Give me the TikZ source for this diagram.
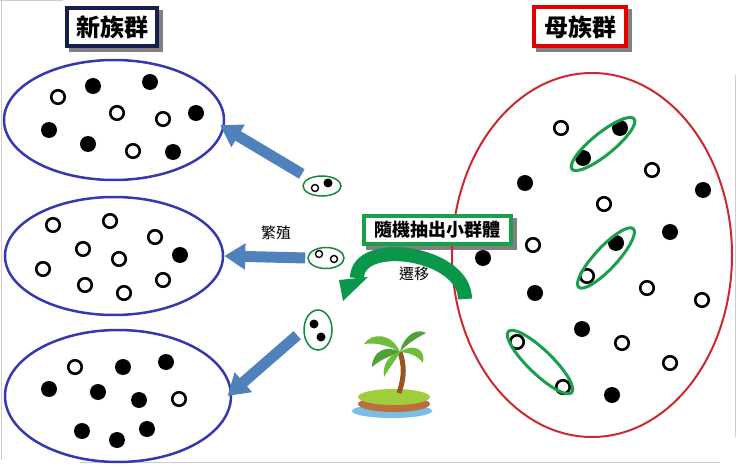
\documentclass[tikz,border=0pt]{standalone}
\usepackage{fontspec}
\setmainfont{Noto Sans CJK TC}
\usetikzlibrary{shapes.geometric,arrows.meta,backgrounds}

\definecolor{popblue}{RGB}{55,55,175}
\definecolor{popred}{RGB}{205,40,50}
\definecolor{pickgreen}{RGB}{25,160,75}
\definecolor{arrowblue}{RGB}{79,129,189}
\definecolor{navy}{RGB}{20,30,80}
\definecolor{migreen}{RGB}{10,150,75}
\definecolor{water}{RGB}{120,190,230}
\definecolor{soil}{RGB}{190,110,60}
\definecolor{grass}{RGB}{160,205,60}
\definecolor{trunk}{RGB}{150,85,35}
\definecolor{leaf}{RGB}{110,190,60}
\definecolor{darkleaf}{RGB}{80,160,55}

\begin{document}
\begin{tikzpicture}[x=1pt, y=-1pt,
  pop/.style = {draw=popblue, line width=2.5pt, ellipse, inner sep=0},
  full/.style = {circle, fill=black, minimum size=16pt, inner sep=0},
  hollow/.style = {circle, draw=black, line width=2.6pt, fill=white, minimum size=13.5pt, inner sep=0},
  sfull/.style = {circle, fill=black, minimum size=9pt, inner sep=0},
  shollow/.style = {circle, draw=black, line width=1.4pt, minimum size=7pt, inner sep=0},
  sub/.style = {draw=pickgreen!85!black, line width=1.5pt, ellipse, inner sep=0},
  pick/.style = {draw=pickgreen, line width=3pt, ellipse, inner sep=0, minimum height=22pt},
  title/.style = {fill=white, line width=4pt, inner sep=0, minimum width=90pt, minimum height=38pt,
    font=\fontsize{24}{24}\selectfont\bfseries},
  boxshadow/.style = {fill=black!50},
  blk/.style = {draw=arrowblue, line width=11pt, -{Triangle[width=25pt, length=21pt]}},
  lbl/.style = {font=\fontsize{15}{15}\selectfont}]

  \useasboundingbox (0,0) rectangle (736,465);

  % scan edges
  \draw[gray!40, line width=.8pt] (1,0) -- (1,460) (0,.5) -- (63,.5) (80,462) -- (720,462) (735,75) -- (735,437);

  % new populations
  \node[pop, minimum width=220pt, minimum height=120pt] (pop1) at (114,120) {};
  \node[pop, minimum width=218pt, minimum height=118pt] (pop2) at (114,256) {};
  \node[pop, minimum width=226pt, minimum height=132pt] (pop3) at (118,396) {};

  \foreach \x/\y [count=\i] in {93/86, 150/82, 196/113, 49/130, 88/144, 173/152, 180/255,
      123/367, 166/362, 49/389, 98/392, 139/400, 82/431, 117/440, 147/429}
    \node[full] (f\i) at (\x,\y) {};
  \foreach \x/\y [count=\i] in {58/97, 117/113, 163/119, 133/151,
      53/225, 110/221, 155/237, 83/249, 119/259, 43/269, 85/285, 124/293, 163/280,
      75/367, 179/399}
    \node[hollow] (h\i) at (\x,\y) {};

  \node[title, draw=navy] (newpop) at (112,27) {新族群};

  % mother population
  \node[ellipse, draw=popred, line width=2pt, inner sep=0, minimum width=280pt, minimum height=364pt] (mother) at (592,255) {};

  \foreach \x/\y [count=\i] in {620/128, 583/158, 525/183, 703/190, 670/232, 483/258,
      616/243, 535/293, 582/329, 612/395}
    \node[full] (mf\i) at (\x,\y) {};
  \foreach \x/\y [count=\i] in {561/128, 652/170, 604/204, 533/245, 587/276, 647/288,
      702/300, 622/343, 517/342, 670/363, 563/387}
    \node[hollow] (mh\i) at (\x,\y) {};

  \node[pick, minimum width=80pt, rotate=39] (g1) at (603,144) {};
  \node[pick, minimum width=80pt, rotate=47] (g2) at (606,258) {};
  \node[pick, minimum width=88pt, minimum height=24pt, rotate=-44] (g3) at (540,362) {};

  \node[title, draw=red!90!black, minimum width=92pt, minimum height=39pt] (motherpop) at (580,27) {母族群};

  % small groups
  \node[sub, minimum width=38pt, minimum height=20pt] (s1) at (322,186) {};
  \node[shollow] (s1a) at (315,188) {};
  \node[sfull] (s1b) at (328,183) {};
  \node[sub, minimum width=36pt, minimum height=21pt] (s2) at (326,258) {};
  \node[shollow] (s2a) at (319,254) {};
  \node[shollow] (s2b) at (334,259) {};
  \node[sub, minimum width=28pt, minimum height=40pt] (s3) at (318,330) {};
  \node[sfull] (s3a) at (314,324) {};
  \node[sfull] (s3b) at (321,337) {};

  \draw[blk, shorten <=8pt, shorten >=-5pt] (s1) -- (pop1.-4);
  \draw[blk, shorten <=2pt, shorten >=0pt] (s2.west) -- (pop2.east);
  \draw[blk, shorten <=8pt, shorten >=-6pt] (s3.west) -- (pop3.2);

  \node[lbl] (breed) at (276,233) {繁殖};

  % migration
  \coordinate (m) at (465,299);
  \coordinate (mend) at (357,278);
  \draw[migreen, line width=14pt] (m) .. controls +(0,-47) and +(0,-41) .. (mend);
  \fill[migreen] (339,280) -- (368,277) -- (343,301) -- cycle;
  \node[lbl] (move) at (414,274) {遷移};

  \node[draw=pickgreen, fill=white, line width=4.5pt, inner sep=0, minimum width=147pt, minimum height=28pt,
    font=\fontsize{18}{18}\selectfont\bfseries] (sample) at (437.5,230) {隨機抽出小群體};

  % shadows
  \begin{scope}[on background layer]
    \foreach \b in {newpop, motherpop, sample}
      \fill[boxshadow] ([shift={(4,4)}]\b.north west) rectangle ([shift={(4,4)}]\b.south east);
  \end{scope}

  % island
  \fill[water] (392,411) ellipse [x radius=40, y radius=7];
  \fill[soil] (394,404) ellipse [x radius=36, y radius=8];
  \fill[grass] (394,397) ellipse [x radius=36, y radius=8];
  \draw[trunk, line width=5pt] (399,393) .. controls (405,375) and (404,365) .. (400,352);
  \fill[leaf] (400,352) .. controls (392,333) and (372,332) .. (364,344) .. controls (376,342) and (390,346) .. (400,352);
  \fill[darkleaf] (400,352) .. controls (386,344) and (372,352) .. (372,367) .. controls (382,358) and (392,356) .. (400,352);
  \fill[leaf] (400,352) .. controls (390,354) and (382,364) .. (384,377) .. controls (390,366) and (397,359) .. (400,352);
  \fill[darkleaf] (400,352) .. controls (404,334) and (418,328) .. (426,333) .. controls (416,338) and (407,344) .. (400,352);
  \fill[leaf] (400,352) .. controls (414,342) and (426,350) .. (423,363) .. controls (416,354) and (408,353) .. (400,352);
\end{tikzpicture}
\end{document}
